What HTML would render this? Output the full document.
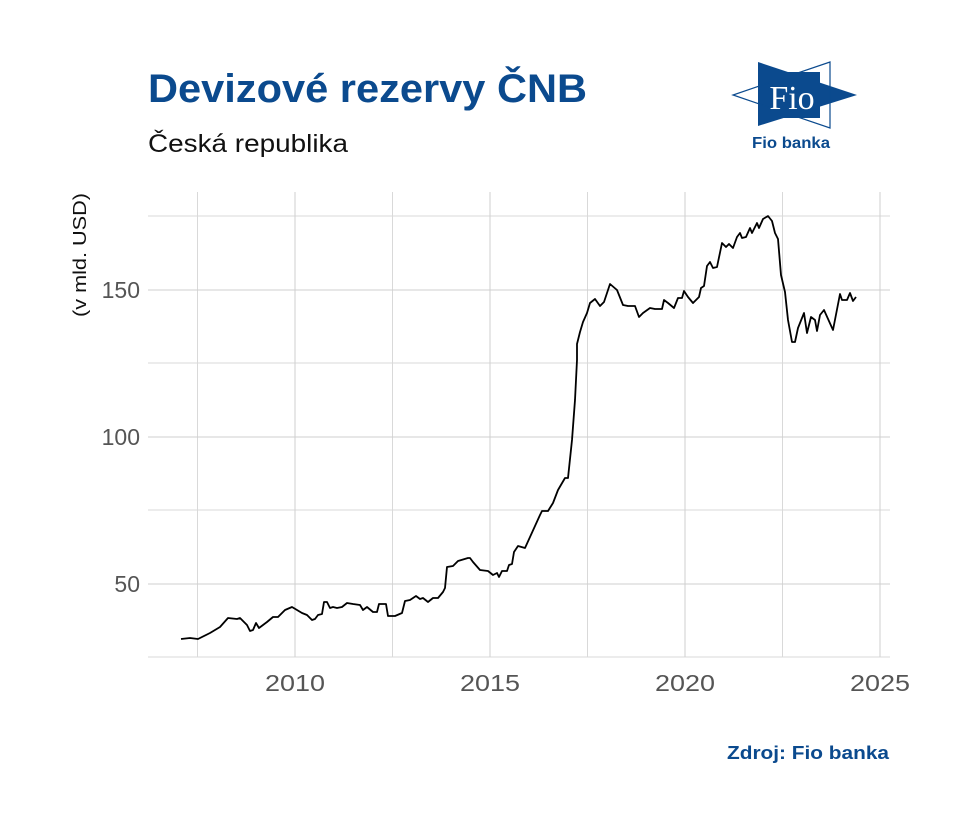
<!DOCTYPE html>
<html><head><meta charset="utf-8"><style>
body{margin:0;background:#fff;}
svg{display:block;}
</style></head><body>
<svg width="960" height="833" xmlns="http://www.w3.org/2000/svg" font-family="Liberation Sans, sans-serif">
<rect width="960" height="833" fill="#fff"/>
<text x="148" y="102" font-size="40" font-weight="bold" fill="#0b4a8e" textLength="439" lengthAdjust="spacingAndGlyphs">Devizové rezervy ČNB</text>
<text x="148" y="152" font-size="25" fill="#111" textLength="200" lengthAdjust="spacingAndGlyphs">Česká republika</text>
<!-- logo -->
<polygon points="758,62 758,126 857,95" fill="#0b4a8e"/>
<polygon points="830,62 830,128 733,95" fill="none" stroke="#0b4a8e" stroke-width="1.2"/>
<polygon points="770,72 820,72 820,118 770,118" fill="#0b4a8e"/>
<text x="792" y="109" font-size="34" font-family="Liberation Serif, serif" fill="#fff" text-anchor="middle">Fio</text>
<text x="791" y="148" font-size="16" font-weight="bold" fill="#0b4a8e" text-anchor="middle" textLength="78" lengthAdjust="spacingAndGlyphs">Fio banka</text>
<!-- grid -->
<g stroke="#d9d9d9" stroke-width="1">
<line x1="148" x2="890" y1="216" y2="216"/><line x1="148" x2="890" y1="363" y2="363"/><line x1="148" x2="890" y1="510" y2="510"/><line x1="148" x2="890" y1="657" y2="657"/>
<line x1="197.5" x2="197.5" y1="192" y2="657"/><line x1="392.5" x2="392.5" y1="192" y2="657"/><line x1="587.5" x2="587.5" y1="192" y2="657"/><line x1="782.5" x2="782.5" y1="192" y2="657"/>
</g>
<g stroke="#cfcfcf" stroke-width="1">
<line x1="148" x2="890" y1="290" y2="290"/><line x1="148" x2="890" y1="437" y2="437"/><line x1="148" x2="890" y1="584" y2="584"/>
<line x1="295" x2="295" y1="192" y2="657"/><line x1="490" x2="490" y1="192" y2="657"/><line x1="685" x2="685" y1="192" y2="657"/><line x1="880" x2="880" y1="192" y2="657"/>
</g>
<g font-size="23" fill="#555" text-anchor="end">
<text x="140" y="298">150</text><text x="140" y="445">100</text><text x="140" y="592">50</text>
</g>
<g font-size="23" fill="#555" text-anchor="middle">
<text x="295" y="691" textLength="60" lengthAdjust="spacingAndGlyphs">2010</text><text x="490" y="691" textLength="60" lengthAdjust="spacingAndGlyphs">2015</text><text x="685" y="691" textLength="60" lengthAdjust="spacingAndGlyphs">2020</text><text x="880" y="691" textLength="60" lengthAdjust="spacingAndGlyphs">2025</text>
</g>
<text transform="translate(86,255) rotate(-90)" font-size="18" fill="#111" text-anchor="middle" textLength="124" lengthAdjust="spacingAndGlyphs">(v mld. USD)</text>
<polyline fill="none" stroke="#000" stroke-width="1.8" stroke-linejoin="round" points="
181,639 190,638 198,639 210,633 220,627 228,618 237,619 240,618 247,625 250,631 253,630 256,623 259,628 267,622 273,617 278,617 285,610 292,607 297,610 302,613 307,615 312,620 315,619 318,615 322,614 324,602 327,602 330,608 333,607 337,608 342,607 347,603 353,604 360,605 363,610 367,607 373,612 377,612 379,604 386,604 388,616 395,616 402,613 405,601 410,600 416,596 420,599 423,598 428,602 433,598 438,598 443,592 445,588 447,567 453,566 458,561 468,558 470,558 473,562 480,570 488,571 493,575 497,573 499,577 502,571 507,571 509,565 512,564 514,552 518,546 525,548 540,515 542,511 548,511 553,503 558,490 565,478 568,478 572,440 575,400 577,360 577,344 580,332 583,322 587,313 590,303 595,299 600,306 604,302 610,284 617,290 623,305 628,306 635,306 639,317 643,313 650,308 655,309 662,309 664,300 668,303 674,308 678,298 682,298 684,291 688,297 693,303 699,297 701,288 704,286 707,266 710,262 713,268 717,267 722,243 726,247 729,244 733,248 737,237 740,233 742,238 746,237 750,228 752,233 757,223 759,228 763,219 768,216 772,221 775,233 778,239 781,275 785,292 788,320 792,342 795,342 798,328 804,313 807,333 811,317 815,320 817,331 820,315 824,310 833,330 840,294 842,300 847,300 850,293 853,301 856,297"/>
<text x="889" y="759" font-size="18" font-weight="bold" fill="#0b4a8e" text-anchor="end" textLength="162" lengthAdjust="spacingAndGlyphs">Zdroj: Fio banka</text>
</svg>
</body></html>
